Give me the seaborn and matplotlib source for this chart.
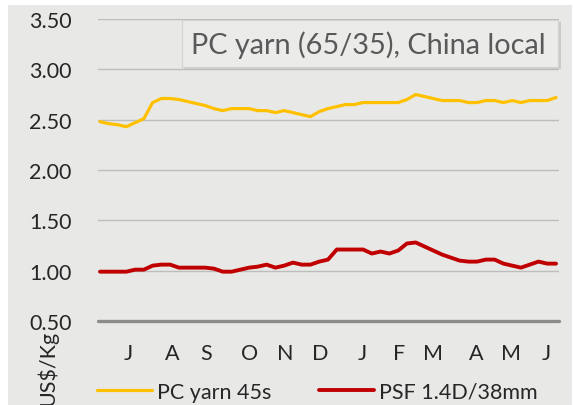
import numpy as np
import pandas as pd
import seaborn as sns
import matplotlib.pyplot as plt
from matplotlib.patches import Rectangle

# weekly prices, US$/Kg
pc_yarn = [2.48, 2.46, 2.45, 2.43, 2.47, 2.51, 2.67, 2.71, 2.71, 2.70,
           2.68, 2.66, 2.64, 2.61, 2.59, 2.61, 2.61, 2.61, 2.59, 2.59,
           2.57, 2.59, 2.57, 2.55, 2.53, 2.58, 2.61, 2.63, 2.65, 2.65,
           2.67, 2.67, 2.67, 2.67, 2.67, 2.70, 2.75, 2.73, 2.71, 2.69,
           2.69, 2.69, 2.67, 2.67, 2.69, 2.69, 2.67, 2.69, 2.67, 2.69,
           2.69, 2.69, 2.72]
psf = [0.99, 0.99, 0.99, 0.99, 1.01, 1.01, 1.05, 1.06, 1.06, 1.03,
       1.03, 1.03, 1.03, 1.02, 0.99, 0.99, 1.01, 1.03, 1.04, 1.06,
       1.03, 1.05, 1.08, 1.06, 1.06, 1.09, 1.11, 1.21, 1.21, 1.21,
       1.21, 1.17, 1.19, 1.17, 1.20, 1.27, 1.28, 1.24, 1.20, 1.16,
       1.13, 1.10, 1.09, 1.09, 1.11, 1.11, 1.07, 1.05, 1.03, 1.06,
       1.09, 1.07, 1.07]
weeks = np.arange(len(pc_yarn))

month_labels = ["J", "A", "S", "O", "N", "D", "J", "F", "M", "A", "M", "J"]
month_pos = [3.2, 8.2, 12.1, 17.1, 21.1, 25.1, 29.9, 34.1, 38.0, 42.9, 46.9, 50.9]
y_ticks = [0.5, 1.0, 1.5, 2.0, 2.5, 3.0, 3.5]

series = ["PC yarn 45s", "PSF 1.4D/38mm"]
df = pd.DataFrame({
    "week": np.concatenate([weeks, weeks]),
    "price": pc_yarn + psf,
    "series": [series[0]] * len(weeks) + [series[1]] * len(weeks),
})

sns.set_style("white")
plt.rcParams["font.family"] = ["Lato", "DejaVu Sans"]

bg = "#e8e9e7"
W, H = 573, 406
fig = plt.figure(figsize=(W / 100, H / 100), dpi=100, facecolor="white")
fig.patches.append(Rectangle((8 / W, 0), 564 / W, 400 / H, transform=fig.transFigure,
                             facecolor=bg, edgecolor="none", zorder=-1))

ax = fig.add_axes([98 / W, 1 - 322 / H, 461 / W, 302 / H])
ax.set_facecolor("none")

colors = {series[0]: "#FFC000", series[1]: "#C00000"}
widths = {series[0]: 2.3, series[1]: 2.8}
for s in series:
    sns.lineplot(data=df[df.series == s], x="week", y="price", color=colors[s],
                 linewidth=widths[s], label=s, ax=ax, legend=False)

ax.set_xlim(-0.23, 52.34)
ax.set_ylim(0.5, 3.5)
ax.set_yticks(y_ticks)
ax.set_yticklabels([f"{v:.2f}" for v in y_ticks])
ax.set_xticks(month_pos)
ax.set_xticklabels(month_labels)
ax.tick_params(axis="y", length=0, pad=19, labelsize=15.5, labelcolor="#262626")
ax.tick_params(axis="x", length=0, pad=16, labelsize=15.5, labelcolor="#262626")
ax.set_xlabel("")
ax.set_ylabel("")
for sp in ax.spines.values():
    sp.set_visible(False)
ax.grid(axis="y", color="#bdbdbd", linewidth=1.0)
ax.set_axisbelow(True)
ax.axhline(0.5, color="#8c8c8c", linewidth=2.4, clip_on=False, zorder=1)

# title box with shadow
fig.patches.append(Rectangle((184 / W, 1 - 70 / H), 377 / W, 47 / H, transform=fig.transFigure,
                             facecolor="#cbccca", edgecolor="none", zorder=4))
fig.patches.append(Rectangle((182 / W, 1 - 68 / H), 376 / W, 47 / H, transform=fig.transFigure,
                             facecolor="#ebecea", edgecolor="#d2d3d1", linewidth=0.8, zorder=5))
fig.text(191 / W, 1 - 45 / H, "PC yarn (65/35), China local", ha="left", va="center",
         fontsize=20.8, color="#595959", zorder=6)

fig.text(47 / W, 1 - 368 / H, "US$/Kg", rotation=90, ha="center", va="center",
         fontsize=15.5, color="#262626")

handles, labels = ax.get_legend_handles_labels()
fig.legend(handles, labels, loc="center", bbox_to_anchor=(317.5 / W, 1 - 393 / H),
           ncol=2, frameon=False, fontsize=15.5, handlelength=2.55, handletextpad=0.23,
           columnspacing=2.2, borderpad=0, labelcolor="#262626")

fig.savefig("out.png", dpi=100, facecolor="white")
